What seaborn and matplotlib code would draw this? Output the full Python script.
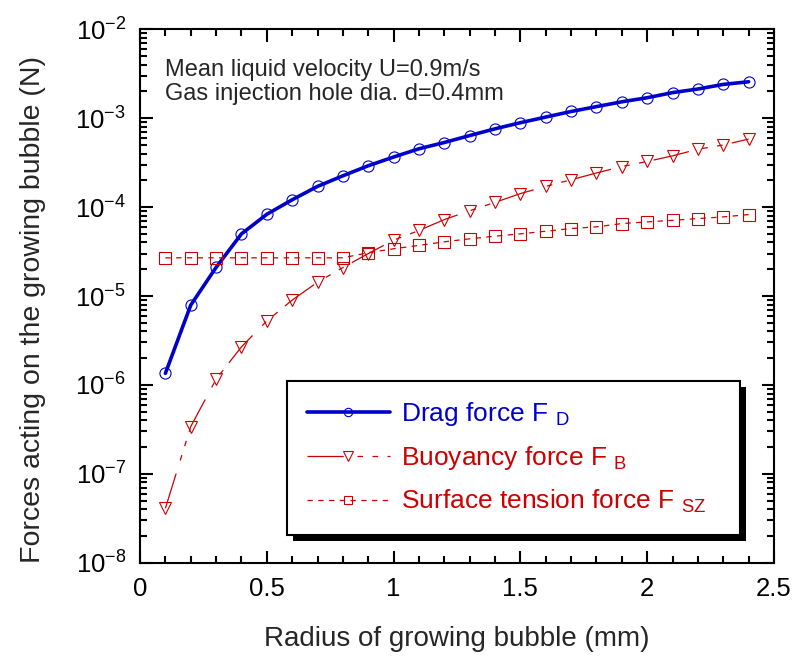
import numpy as np
import pandas as pd
import seaborn as sns
import matplotlib.pyplot as plt
from matplotlib.patches import Rectangle
from matplotlib.lines import Line2D
from matplotlib.ticker import MultipleLocator, LogLocator, NullFormatter

# bubble radius (mm)
radius = [0.1, 0.2, 0.3, 0.4, 0.5, 0.6, 0.7, 0.8, 0.9, 1.0, 1.1, 1.2,
          1.3, 1.4, 1.5, 1.6, 1.7, 1.8, 1.9, 2.0, 2.1, 2.2, 2.3, 2.4]

# forces (N)
drag = [1.35e-6, 7.9e-6, 2.1e-5, 5.0e-5, 8.3e-5, 1.21e-4, 1.71e-4, 2.25e-4,
        2.92e-4, 3.66e-4, 4.53e-4, 5.33e-4, 6.38e-4, 7.6e-4, 8.9e-4, 1.03e-3,
        1.19e-3, 1.35e-3, 1.53e-3, 1.70e-3, 1.94e-3, 2.13e-3, 2.40e-3, 2.57e-3]
buoyancy = [4.1e-8, 3.4e-7, 1.16e-6, 2.68e-6, 5.24e-6, 9.0e-6, 1.43e-5, 2.09e-5,
            3.0e-5, 4.25e-5, 5.46e-5, 7.24e-5, 9.1e-5, 1.13e-4, 1.42e-4, 1.71e-4,
            2.03e-4, 2.42e-4, 2.86e-4, 3.26e-4, 3.77e-4, 4.48e-4, 5.0e-4, 5.82e-4]
surface = [2.69e-5, 2.69e-5, 2.69e-5, 2.69e-5, 2.69e-5, 2.69e-5, 2.69e-5, 2.69e-5,
           3.07e-5, 3.40e-5, 3.71e-5, 4.07e-5, 4.40e-5, 4.71e-5, 5.0e-5, 5.36e-5,
           5.74e-5, 6.0e-5, 6.53e-5, 6.82e-5, 7.1e-5, 7.43e-5, 7.76e-5, 8.24e-5]

labels = ["Drag force F $_{D}$", "Buoyancy force F $_{B}$",
          "Surface tension force F $_{SZ}$"]

sns.set_style("ticks")
plt.rcParams["font.family"] = ["Liberation Sans", "DejaVu Sans"]
plt.rcParams["mathtext.default"] = "regular"

blue = "#0000cc"
red = "#cc0000"
buoy_dash = (0, (29, 11, 4.5, 7.5, 4.5, 7.5))
surf_dash = (0, (4.3, 4.3))

df = pd.DataFrame({"radius": radius, "drag": drag,
                   "buoyancy": buoyancy, "surface": surface})

fig = plt.figure(figsize=(7.97, 6.6), dpi=100)
ax = fig.add_axes([0.1757, 0.1474, 0.7954, 0.8082])

sns.lineplot(data=df, x="radius", y="drag", ax=ax, color=blue, linewidth=2.6,
             marker="o", markersize=8, markerfacecolor="none",
             markeredgecolor=blue, markeredgewidth=0.8)
sns.lineplot(data=df, x="radius", y="buoyancy", ax=ax, color=red, linewidth=0.9,
             linestyle=buoy_dash,
             marker="v", markersize=9, markerfacecolor="none",
             markeredgecolor=red, markeredgewidth=0.8)
sns.lineplot(data=df, x="radius", y="surface", ax=ax, color=red, linewidth=0.9,
             linestyle=surf_dash,
             marker="s", markersize=8, markerfacecolor="none",
             markeredgecolor=red, markeredgewidth=0.8)

ax.set_yscale("log")
ax.set_xlim(0, 2.5)
ax.set_ylim(1e-8, 1e-2)
ax.xaxis.set_minor_locator(MultipleLocator(0.1))
ax.yaxis.set_major_locator(LogLocator(base=10, numticks=10))
ax.yaxis.set_minor_locator(LogLocator(base=10, subs=np.arange(2, 10), numticks=10))
ax.yaxis.set_minor_formatter(NullFormatter())
ax.set_xticks([0, 0.5, 1, 1.5, 2, 2.5], ["0", "0.5", "1", "1.5", "2", "2.5"])

for side in ["left", "right", "top", "bottom"]:
    ax.spines[side].set_visible(True)
    ax.spines[side].set_linewidth(1.5)
    ax.spines[side].set_color("black")
ax.tick_params(which="both", direction="in", top=True, right=True,
               colors="black", width=1.5, labelsize=18.5)
ax.tick_params(which="major", length=9, pad=10)
ax.tick_params(which="minor", length=5)

ax.set_xlabel("Radius of growing bubble (mm)", fontsize=20, labelpad=18)
ax.set_ylabel("Forces acting on the growing bubble (N)", fontsize=20.5)
ax.yaxis.set_label_coords(-0.148, 0.474)

ax.text(0.039, 0.945, "Mean liquid velocity U=0.9m/s\nGas injection hole dia. d=0.4mm",
        transform=ax.transAxes, fontsize=17, va="top", ha="left", linespacing=1.12)

handles = [
    Line2D([], [], color=blue, lw=2.6, marker="o", markersize=6,
           markerfacecolor="none", markeredgecolor=blue, markeredgewidth=0.8),
    Line2D([], [], color=red, lw=0.9, linestyle=buoy_dash,
           marker="v", markersize=7, markerfacecolor="none",
           markeredgecolor=red, markeredgewidth=0.8),
    Line2D([], [], color=red, lw=0.9, linestyle=surf_dash,
           marker="s", markersize=6, markerfacecolor="none",
           markeredgecolor=red, markeredgewidth=0.8),
]
leg = ax.legend(handles, labels, loc="lower left",
                bbox_to_anchor=(0.232, 0.052, 0.714, 0.292), mode="expand",
                borderaxespad=0, fontsize=19, handlelength=3.15,
                handletextpad=0.4, labelspacing=0.6, borderpad=0.75,
                labelcolor=[blue, red, red], fancybox=False, framealpha=1)
leg.get_frame().set_edgecolor("black")
leg.get_frame().set_linewidth(1.5)
leg.set_zorder(10)

# drop shadow behind the legend box
fig.canvas.draw()
bb = leg.get_frame().get_window_extent()
shadow = Rectangle((bb.x0 + 6, bb.y0 - 6), bb.width, bb.height, transform=None,
                   facecolor="black", edgecolor="none", zorder=9)
ax.add_artist(shadow)

fig.savefig("out.png", dpi=100)
